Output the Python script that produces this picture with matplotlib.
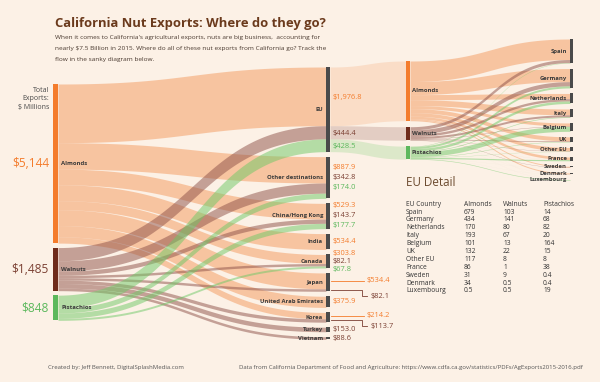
import numpy as np
import matplotlib.pyplot as plt

plt.rcParams['font.family'] = ['Open Sans', 'DejaVu Sans']

# Dados (milhões de dólares)
nuts = ['Almonds', 'Walnuts', 'Pistachios']
nut_totals = ['$5,144', '$1,485', '$848']
destinations = ['EU', 'Other destinations', 'China/Hong Kong', 'India', 'Canada',
                'Japan', 'United Arab Emirates', 'Korea', 'Turkey', 'Vietnam']
almonds = [1976.8, 887.9, 529.3, 534.4, 303.8, 534.4, 375.9, 214.2, 0, 0]
walnuts = [444.4, 342.8, 143.7, 0, 82.1, 82.1, 0, 113.7, 153.0, 88.6]
pistachios = [428.5, 174.0, 177.7, 0, 67.8, 0, 0, 0, 0, 0]
callouts = ['Japan', 'Korea']

eu_countries = ['Spain', 'Germany', 'Netherlands', 'Italy', 'Belgium', 'UK',
                'Other EU', 'France', 'Sweden', 'Denmark', 'Luxembourg']
eu_almonds = [679, 434, 170, 193, 101, 132, 117, 86, 31, 34, 0.5]
eu_walnuts = [103, 141, 80, 67, 13, 22, 8, 1, 9, 0.5, 0.5]
eu_pistachios = [14, 68, 82, 20, 164, 15, 8, 38, 0.4, 0.4, 19]

title = "California Nut Exports: Where do they go?"
subtitle = ["When it comes to California's agricultural exports, nuts are big business,  accounting for",
            "nearly $7.5 Billion in 2015. Where do all of these nut exports from California go? Track the",
            "flow in the sanky diagram below."]

# Estilo
bg = '#fcf1e6'
node_col = ['#f47c2c', '#6e2b1b', '#5cb85c']
flow_col = ['#f3985c', '#8d5048', '#6dc866']
val_col = ['#f47c2c', '#7b4033', '#5cb85c']
bar_gray = '#4a4a4a'
label_col = '#3a3a3a'

S = 0.0297      # pixels por milhão (fluxos principais)
S2 = 0.0302     # pixels por milhão (detalhe UE)
X_LEFT, X_MID, X_EU, X_RIGHT = 53, 326, 406, 570


def ribbon(ax, x0, x1, top0, bot0, top1, bot1, color, alpha):
    t = np.linspace(0, 1, 80)
    xm = (x0 + x1) / 2
    bx = (1-t)**3*x0 + 3*(1-t)**2*t*xm + 3*(1-t)*t**2*xm + t**3*x1
    s = 3*(1-t)*t**2 + t**3
    top = top0 + (top1 - top0) * s
    bot = bot0 + (bot1 - bot0) * s
    ax.fill_between(bx, top, bot, color=color, alpha=alpha, lw=0)


fig = plt.figure(figsize=(6, 3.82), dpi=100)
fig.patch.set_facecolor(bg)
ax = fig.add_axes([0, 0, 1, 1])
ax.set_xlim(0, 600)
ax.set_ylim(382, 0)
ax.axis('off')

F = np.array([almonds, walnuts, pistachios])
E = np.array([eu_almonds, eu_walnuts, eu_pistachios])

# Nós da esquerda
left_top = []
y = 84
for i in range(3):
    left_top.append(y)
    y += F[i].sum() * S + 4.5

# Nós do meio
mid_top = []
y = 67
for j in range(len(destinations)):
    mid_top.append(y)
    y += F[:, j].sum() * S + 5

# segmentos de saída (esquerda) e de entrada (meio)
out_seg = {}
for i in range(3):
    cur = left_top[i]
    for j in range(len(destinations)):
        if F[i, j] > 0:
            out_seg[(i, j)] = (cur, cur + F[i, j] * S)
            cur += F[i, j] * S
in_seg = {}
for j in range(len(destinations)):
    cur = mid_top[j]
    for i in range(3):
        if F[i, j] > 0:
            in_seg[(i, j)] = (cur, cur + F[i, j] * S)
            cur += F[i, j] * S

for i in range(3):
    for j in range(len(destinations)):
        if F[i, j] > 0:
            a, b = out_seg[(i, j)]
            c, d = in_seg[(i, j)]
            ribbon(ax, X_LEFT + 5, X_MID, a, b, c, d, flow_col[i], 0.5)

# Detalhe UE: nós
eu_left_top = []
y = 61
for i in range(3):
    eu_left_top.append(y)
    y += E[i].sum() * S2 + 6
right_top = []
y = 39
for k in range(len(eu_countries)):
    right_top.append(y)
    y += E[:, k].sum() * S2 + 5.5

# faixas UE meio -> detalhe
for i in range(3):
    c, d = in_seg[(i, 0)]
    ribbon(ax, X_MID + 4, X_EU, c, d, eu_left_top[i], eu_left_top[i] + E[i].sum() * S2,
           flow_col[i], 0.22)

eu_out = {}
for i in range(3):
    cur = eu_left_top[i]
    for k in range(len(eu_countries)):
        eu_out[(i, k)] = (cur, cur + E[i, k] * S2)
        cur += E[i, k] * S2
eu_in = {}
for k in range(len(eu_countries)):
    cur = right_top[k]
    for i in range(3):
        eu_in[(i, k)] = (cur, cur + E[i, k] * S2)
        cur += E[i, k] * S2
for i in range(3):
    for k in range(len(eu_countries)):
        a, b = eu_out[(i, k)]
        c, d = eu_in[(i, k)]
        ribbon(ax, X_EU + 4, X_RIGHT, a, b, c, d, flow_col[i], 0.5)

# Barras dos nós
for i in range(3):
    h = F[i].sum() * S
    ax.bar(X_LEFT, h, bottom=left_top[i], width=5, align='edge', color=node_col[i], lw=0)
    yc = left_top[i] + h / 2
    ax.text(X_LEFT + 8, yc, nuts[i], fontsize=4.3, fontweight='bold', color=label_col,
            ha='left', va='center')
    ax.text(X_LEFT - 4, yc, nut_totals[i], fontsize=8.6, color=val_col[i],
            ha='right', va='center')
    h2 = E[i].sum() * S2
    ax.bar(X_EU, h2, bottom=eu_left_top[i], width=4, align='edge', color=node_col[i], lw=0)
    ax.text(X_EU + 6, eu_left_top[i] + h2 / 2, nuts[i], fontsize=4.3, fontweight='bold',
            color=label_col, ha='left', va='center')

for t_, yy in zip(['Total', 'Exports:', '$ Millions'], [90, 99, 108]):
    ax.text(X_LEFT - 4, yy, t_, fontsize=5, color='#4a4a4a', ha='right', va='center')

for j, name in enumerate(destinations):
    h = F[:, j].sum() * S
    top = mid_top[j]
    ax.bar(X_MID, h, bottom=top, width=4, align='edge', color=bar_gray, lw=0)
    yc = top + h / 2
    ax.text(X_MID - 3, yc, name, fontsize=4.2, fontweight='bold', color=label_col,
            ha='right', va='center')
    vals = [(i, F[i, j]) for i in range(3) if F[i, j] > 0]
    if name == 'EU':
        for i, v in vals:
            c, d = in_seg[(i, j)]
            ax.text(X_MID + 7, (c + d) / 2 + 1, f'${v:,.1f}', fontsize=5.4,
                    color=val_col[i], ha='left', va='center')
    elif name in callouts:
        (ia, va), (ib, vb) = vals
        c, d = in_seg[(ia, j)]
        ya = (c + d) / 2
        ax.plot([X_MID + 5, 364], [ya, ya], color=val_col[ia], lw=0.6)
        ax.text(367, ya, f'${va:,.1f}', fontsize=5.4, color=val_col[ia], ha='left', va='center')
        c, d = in_seg[(ib, j)]
        yb = (c + d) / 2
        ax.plot([X_MID + 5, 362, 362, 367], [yb, yb, yb + 6, yb + 6], color=val_col[ib], lw=0.6)
        ax.text(371, yb + 6, f'${vb:,.1f}', fontsize=5.4, color=val_col[ib], ha='left', va='center')
    else:
        step = 10 if h > 20 else 8
        n = len(vals)
        for m, (i, v) in enumerate(vals):
            ax.text(X_MID + 7, yc + (m - (n - 1) / 2) * step, f'${v:,.1f}', fontsize=5.4,
                    color=val_col[i], ha='left', va='center')

for k, name in enumerate(eu_countries):
    h = max(E[:, k].sum() * S2, 0.8)
    ax.bar(X_RIGHT, h, bottom=right_top[k], width=3, align='edge', color=bar_gray, lw=0)
    ax.text(X_RIGHT - 3, right_top[k] + h / 2, name, fontsize=4.2, fontweight='bold',
            color=label_col, ha='right', va='center')

# Tabela UE
ax.text(406, 182, 'EU Detail', fontsize=8.4, color='#6b4a2e', ha='left', va='center')
cols_x = [406, 464, 503, 543]
header = ['EU Country', 'Almonds', 'Walnuts', 'Pistachios']
for cx, h in zip(cols_x, header):
    ax.text(cx, 204, h, fontsize=4.8, color='#333333', ha='left', va='center')
for k, name in enumerate(eu_countries):
    yy = 212 + k * 7.9
    row = [name, f'{eu_almonds[k]:g}', f'{eu_walnuts[k]:g}', f'{eu_pistachios[k]:g}']
    for cx, s in zip(cols_x, row):
        ax.text(cx, yy, s, fontsize=4.8, color='#333333', ha='left', va='center')

# Título e textos
ax.text(55, 24, title, fontsize=9.4, fontweight='bold', color='#6b3a1c', ha='left', va='center')
for m, line in enumerate(subtitle):
    ax.text(55, 38 + m * 10.5, line, fontsize=4.65, color='#4a3a30', ha='left', va='center')

ax.text(48, 367, 'Created by: Jeff Bennett, DigitalSplashMedia.com', fontsize=4.3, color='#555555',
        ha='left', va='center')
ax.text(583, 367, 'Data from California Department of Food and Agriculture: '
        'https://www.cdfa.ca.gov/statistics/PDFs/AgExports2015-2016.pdf', fontsize=4.3,
        color='#555555', ha='right', va='center')

fig.savefig('out.png', dpi=100, facecolor=bg)
